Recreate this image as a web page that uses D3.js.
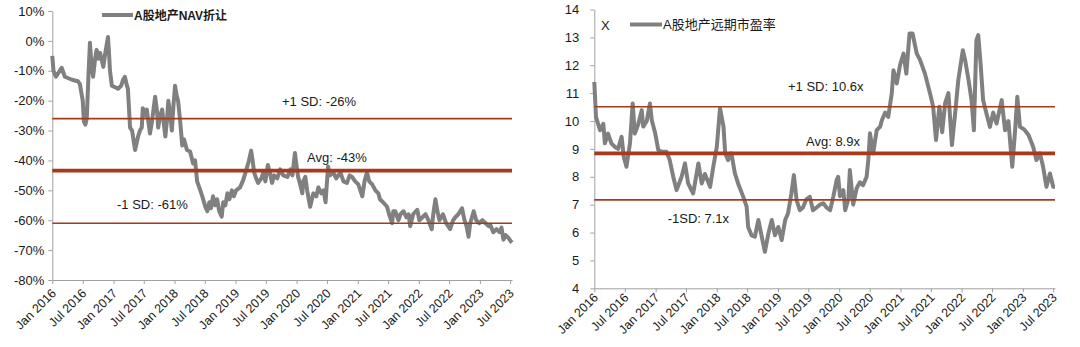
<!DOCTYPE html>
<html><head><meta charset="utf-8">
<script src="https://cdn.jsdelivr.net/npm/d3@7"></script>
<style>
body{margin:0;background:#fff}
svg{display:block}
text{font-family:"Liberation Sans",Arial,"Noto Sans CJK SC",sans-serif;fill:#1a1a1a}
</style>
</head><body>
<svg id="c" width="1080" height="347"></svg>
<script>
// ---------- data ----------
const xTickLabels = ["Jan 2016","Jul 2016","Jan 2017","Jul 2017","Jan 2018","Jul 2018","Jan 2019","Jul 2019",
  "Jan 2020","Jul 2020","Jan 2021","Jul 2021","Jan 2022","Jul 2022","Jan 2023","Jul 2023"];

const navSeriesName = "A股地产NAV折让";
const navDates = ["2016-01-01","2016-01-08","2016-01-23","2016-02-26","2016-03-16","2016-04-28","2016-06-02","2016-06-14",
"2016-07-01","2016-07-08","2016-07-17","2016-07-25","2016-08-04","2016-08-13","2016-08-22","2016-09-01","2016-09-13",
"2016-09-22","2016-10-04","2016-10-13","2016-11-01","2016-11-13","2016-11-19","2016-11-29","2016-12-05","2016-12-11",
"2016-12-22","2017-01-10","2017-01-28","2017-02-16","2017-02-27","2017-03-10","2017-03-22","2017-03-28","2017-04-10",
"2017-04-22","2017-05-10","2017-05-28","2017-06-08","2017-06-19","2017-06-25","2017-07-07","2017-07-19","2017-08-07",
"2017-08-19","2017-09-07","2017-09-19","2017-09-25","2017-10-07","2017-10-19","2017-11-07","2017-11-16","2017-11-25",
"2017-12-07","2017-12-16","2017-12-25","2018-01-04","2018-01-13","2018-01-22","2018-02-04","2018-02-16","2018-02-27",
"2018-03-16","2018-04-04","2018-04-22","2018-05-04","2018-05-16","2018-06-04","2018-06-16","2018-07-04","2018-07-16",
"2018-07-28","2018-08-07","2018-08-19","2018-09-01","2018-09-13","2018-09-25","2018-10-10","2018-10-19","2018-11-01",
"2018-11-13","2018-11-25","2018-12-10","2018-12-22","2019-01-04","2019-01-28","2019-02-16","2019-03-07","2019-03-22",
"2019-04-04","2019-04-13","2019-04-22","2019-05-04","2019-05-16","2019-06-04","2019-06-16","2019-06-28","2019-07-13",
"2019-07-25","2019-08-07","2019-08-19","2019-09-07","2019-09-25","2019-10-13","2019-11-07","2019-11-25","2019-12-07",
"2019-12-22","2020-01-01","2020-01-10","2020-01-22","2020-02-04","2020-02-10","2020-02-22","2020-03-04","2020-03-22",
"2020-04-10","2020-04-28","2020-05-10","2020-05-28","2020-06-10","2020-06-22","2020-07-07","2020-07-19","2020-08-07",
"2020-08-25","2020-09-19","2020-10-07","2020-10-28","2020-11-13","2020-11-28","2020-12-16","2021-01-04","2021-01-28",
"2021-02-10","2021-02-25","2021-03-10","2021-03-28","2021-04-16","2021-05-04","2021-05-13","2021-06-01","2021-06-25",
"2021-07-07","2021-07-25","2021-08-01","2021-08-13","2021-09-01","2021-09-13","2021-10-01","2021-10-19","2021-11-01",
"2021-11-10","2021-11-28","2021-12-22","2022-01-04","2022-01-22","2022-02-10","2022-02-27","2022-03-19","2022-03-28",
"2022-04-10","2022-04-22","2022-05-04","2022-05-25","2022-06-13","2022-07-07","2022-07-25","2022-08-07","2022-08-25",
"2022-09-16","2022-10-01","2022-10-13","2022-10-25","2022-11-04","2022-11-25","2022-12-10","2022-12-28","2023-01-16",
"2023-02-04","2023-02-22","2023-03-04","2023-03-22","2023-04-10","2023-04-28","2023-05-10","2023-05-22","2023-06-04",
"2023-06-22","2023-07-04","2023-07-12"];
const navValues = [-5,-10,-12,-9,-12,-13,-13.5,-14.5,
-20,-27,-28,-26,-12,-0.6,-8,-12,-6,
-3,-6,-4,-8.7,-4,-2,1.3,-4,-10,
-15,-15.5,-16,-15,-13,-12,-15,-16,-29,
-30,-36.5,-32,-30,-29,-22.5,-25,-23,-31,
-27,-18.7,-24,-29,-25,-23,-32,-27,-20,
-25,-30,-22,-15,-18,-20,-27,-35,-33,
-36.5,-37,-41,-40,-47,-50,-52,-55.5,-57,
-54,-56,-52,-55,-53,-57,-58.8,-54,-55,
-51,-53,-50,-52,-50,-49,-46.5,-43,-40,
-36.7,-40,-44,-46,-47.5,-46,-44,-47,-41.5,
-44,-47.5,-45,-46,-43,-45,-45.5,-43,-45,
-37.5,-42,-45.5,-48,-51,-47,-45.5,-50,-55.5,
-51,-52,-49,-51,-50,-54,-42,-45,-44,
-46,-44,-47,-47.5,-45,-45.5,-47,-48,-52,
-47,-44,-47,-48,-50,-51,-53,-54,-55.5,
-58,-61,-57,-57,-60,-58,-57,-59,-58,
-62,-58,-56.5,-60,-59,-58,-60,-63,-58,
-53,-57,-60,-58,-61,-63,-60,-59,-58,
-56,-60,-62,-65.5,-61,-57,-60,-61,-60,
-61,-62,-61.5,-64,-63,-64,-62.5,-66.5,-65,
-66,-67,-67.5];
const navTicks = [10,0,-10,-20,-30,-40,-50,-60,-70,-80];
const navTickLabels = ["10%","0%","-10%","-20%","-30%","-40%","-50%","-60%","-70%","-80%"];
const navRefValues = [-26,-43.4,-61];
const navRefLabels = ["+1 SD: -26%","Avg: -43%","-1 SD: -61%"];

const peSeriesName = "A股地产远期市盈率";
const peUnit = "X";
const peDates = ["2016-01-01","2016-01-11","2016-02-04","2016-02-24","2016-03-04","2016-03-23","2016-04-12","2016-05-03",
"2016-05-22","2016-06-12","2016-06-25","2016-07-11","2016-08-01","2016-08-17","2016-08-30","2016-09-20","2016-10-10",
"2016-10-19","2016-11-09","2016-11-28","2016-12-09","2016-12-28","2017-01-17","2017-02-07","2017-03-07","2017-03-26",
"2017-04-16","2017-05-06","2017-06-05","2017-06-25","2017-07-14","2017-08-13","2017-09-13","2017-10-03","2017-10-22",
"2017-11-22","2017-12-11","2018-01-01","2018-01-20","2018-02-10","2018-02-20","2018-03-09","2018-03-29","2018-04-19",
"2018-05-08","2018-06-08","2018-06-28","2018-07-07","2018-07-27","2018-08-16","2018-09-06","2018-09-26","2018-10-15",
"2018-11-05","2018-11-25","2018-12-14","2019-01-03","2019-01-23","2019-02-13","2019-03-02","2019-03-22","2019-04-06",
"2019-04-22","2019-05-11","2019-05-30","2019-06-20","2019-07-10","2019-07-29","2019-08-19","2019-09-09","2019-09-28",
"2019-10-18","2019-11-08","2019-11-27","2019-12-17","2019-12-26","2020-01-06","2020-01-26","2020-02-06","2020-02-25",
"2020-03-05","2020-03-25","2020-04-15","2020-05-04","2020-05-23","2020-06-13","2020-06-23","2020-07-03","2020-07-22",
"2020-08-12","2020-09-02","2020-09-12","2020-10-01","2020-10-20","2020-11-10","2020-11-20","2020-12-10","2020-12-29",
"2021-01-19","2021-02-05","2021-02-24","2021-03-14","2021-04-08","2021-04-27","2021-05-27","2021-06-26","2021-07-15",
"2021-08-01","2021-08-21","2021-09-07","2021-09-24","2021-10-14","2021-11-04","2021-11-23","2021-12-12","2022-01-08",
"2022-01-22","2022-02-11","2022-03-01","2022-03-15","2022-03-30","2022-04-10","2022-04-24","2022-05-09","2022-05-29",
"2022-06-19","2022-07-08","2022-07-28","2022-08-28","2022-09-17","2022-10-07","2022-10-30","2022-11-16","2022-11-29",
"2022-12-15","2023-01-09","2023-02-04","2023-03-04","2023-03-23","2023-04-13","2023-05-02","2023-05-22","2023-06-12",
"2023-07-01","2023-07-12"];
const peValues = [11.4,10.15,9.67,9.9,9.2,9.55,9.2,9.07,
9.0,9.43,8.7,8.36,9.2,10.63,9.55,9.9,10.39,
9.8,10.0,10.63,10.03,9.6,8.96,8.9,8.9,8.6,
8.0,7.52,8.0,8.48,7.76,7.4,8.48,7.76,8.1,
7.64,8.36,9.07,10.45,9.8,8.84,8.6,8.84,8.12,
7.76,7.28,6.93,6.2,5.9,5.85,6.45,5.85,5.31,
5.97,6.45,5.9,6.2,5.73,6.45,6.69,7.4,8.06,
7.17,6.8,6.9,7.2,7.28,6.8,6.9,7.0,7.05,
6.9,6.8,7.28,7.88,8.0,7.3,7.52,6.8,7.2,
8.24,7.0,7.6,7.8,7.7,8.0,8.6,9.56,8.84,
9.67,9.8,10.03,10.3,10.15,10.99,11.82,11.35,12.0,
12.42,11.7,13.14,13.14,12.42,12.2,11.7,11.0,10.51,
9.32,10.51,9.6,10.63,11.0,9.14,10.27,11.47,12.54,
12.18,11.47,10.75,9.67,12.9,13.08,12.06,10.75,10.27,
9.79,10.3,9.91,10.75,9.67,10.0,8.36,9.67,10.87,
9.79,9.7,9.5,9.07,8.6,8.84,8.36,7.64,8.12,
7.64,7.64];
const peTicks = [4,5,6,7,8,9,10,11,12,13,14];
const peTickLabels = ["4","5","6","7","8","9","10","11","12","13","14"];
const peRefValues = [10.51,8.84,7.17];
const peRefLabels = ["+1 SD: 10.6x","Avg: 8.9x","-1SD: 7.1x"];

// ---------- drawing ----------
const parseDate = d3.timeParse("%Y-%m-%d");
const parseTick = d3.timeParse("%b %Y");
const svg = d3.select("#c");
const LINE = "#808080", REF = "#A8391D", AXIS = "#A0A0A0";

function drawChart(o) {
  const g = svg.append("g");
  const data = o.dates.map((d, i) => ({ date: parseDate(d), value: o.values[i] }));
  const x = d3.scaleTime()
    .domain([parseTick(xTickLabels[0]), data[data.length - 1].date])
    .range(o.xRange);
  const y = d3.scaleLinear().domain(o.yDomain).range(o.yRange);

  // y axis
  const ya = g.append("g").attr("transform", `translate(${o.xRange[0]},0)`)
    .call(d3.axisLeft(y).tickValues(o.yTicks).tickFormat((d, i) => o.yTickLabels[i])
      .tickSize(4).tickSizeOuter(0).tickPadding(o.yPad));
  ya.selectAll("path,line").attr("stroke", AXIS);
  ya.selectAll("text").style("font-size", "13px").attr("fill", "#1a1a1a");

  // x axis
  const xa = g.append("g").attr("transform", `translate(0,${o.yRange[0]})`)
    .call(d3.axisBottom(x).tickValues(xTickLabels.map(parseTick)).tickFormat((d, i) => xTickLabels[i])
      .tickSize(4).tickSizeOuter(0));
  xa.selectAll("path,line").attr("stroke", AXIS);
  xa.selectAll("text").style("font-size", "12.5px").attr("fill", "#1a1a1a")
    .attr("text-anchor", "end").attr("x", 0).attr("y", 0).attr("dy", 0)
    .attr("transform", `translate(${o.lblDx},${o.lblDy}) rotate(-45)`);

  // series
  g.append("path").datum(data)
    .attr("fill", "none").attr("stroke", LINE).attr("stroke-width", 4)
    .attr("stroke-linejoin", "round")
    .attr("d", d3.line().x(d => x(d.date)).y(d => y(d.value)));

  // reference lines
  o.refValues.forEach((v, i) => {
    g.append("line")
      .attr("x1", o.xRange[0]).attr("x2", o.xRange[1])
      .attr("y1", y(v)).attr("y2", y(v))
      .attr("stroke", REF).attr("stroke-width", i === 1 ? 3.6 : 1.6);
    g.append("text").attr("x", o.refLabelPos[i][0]).attr("y", y(v) + o.refLabelPos[i][1])
      .style("font-size", "13px").text(o.refLabels[i]);
  });

  // legend
  const L = o.legend;
  if (L.unit) g.append("text").attr("x", L.unitX).attr("y", L.y + 5).style("font-size", "13px").text(L.unit);
  g.append("line").attr("x1", L.x1).attr("x2", L.x2).attr("y1", L.y).attr("y2", L.y)
    .attr("stroke", LINE).attr("stroke-width", 4);
  g.append("text").attr("x", L.x2 + 1).attr("y", L.y + 4.5)
    .style("font-size", L.size).style("font-weight", L.weight).text(L.name);
}

drawChart({
  dates: navDates, values: navValues,
  xRange: [52.3, 512], yDomain: [-80, 10], yRange: [280, 11],
  yTicks: navTicks, yTickLabels: navTickLabels, yPad: 4,
  lblDx: 4, lblDy: 14,
  refValues: navRefValues, refLabels: navRefLabels,
  refLabelPos: [[282, -13], [307, -9], [117, -14]],
  legend: { x1: 102, x2: 133, y: 15, name: navSeriesName, size: "12px", weight: "bold" }
});

drawChart({
  dates: peDates, values: peValues,
  xRange: [594.3, 1055], yDomain: [4, 14], yRange: [288.3, 9.5],
  yTicks: peTicks, yTickLabels: peTickLabels, yPad: 11,
  lblDx: 4, lblDy: 10,
  refValues: peRefValues, refLabels: peRefLabels,
  refLabelPos: [[788, -15.5], [806, -7], [667.7, 23]],
  legend: { unit: peUnit, unitX: 601, x1: 630, x2: 662, y: 24.5, name: peSeriesName, size: "13px", weight: "normal" }
});
</script>
</body></html>
